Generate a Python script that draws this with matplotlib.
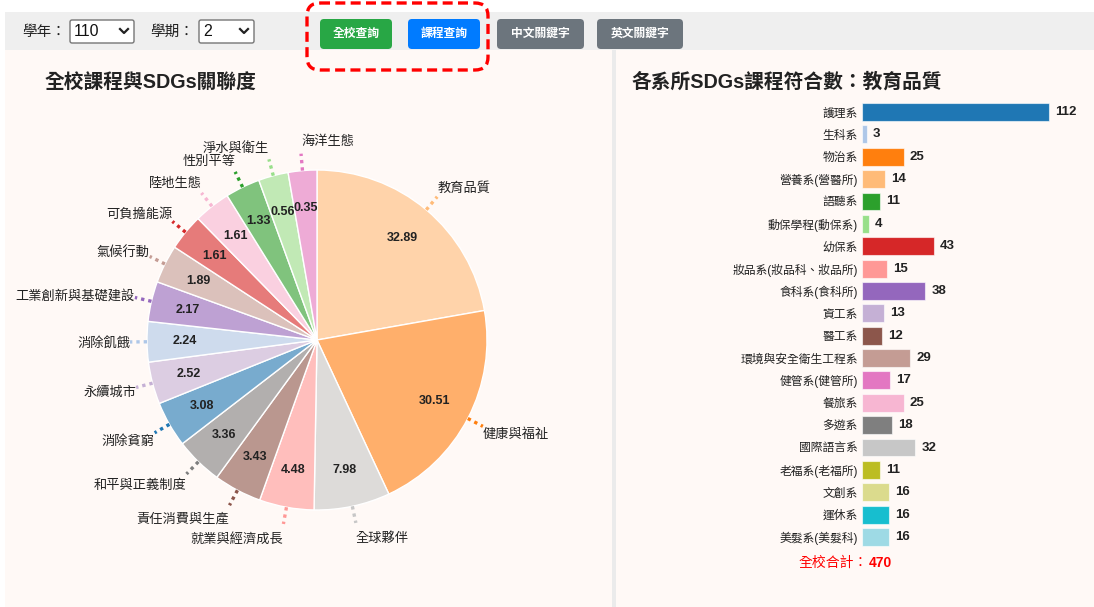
import numpy as np
import matplotlib
matplotlib.use('Agg')
import matplotlib.pyplot as plt
from matplotlib.patches import FancyBboxPatch, Rectangle
from matplotlib.colors import to_rgba

plt.rcParams['font.family'] = ['Liberation Sans', 'Noto Sans CJK TC', 'DejaVu Sans']

# pie: SDG share of all courses (labels), slice sizes as drawn in degrees
sdg_names = ['教育品質', '健康與福祉', '全球夥伴', '就業與經濟成長', '責任消費與生產', '和平與正義制度',
             '消除貧窮', '永續城市', '消除飢餓', '工業創新與基礎建設', '氣候行動', '可負擔能源',
             '陸地生態', '性別平等', '淨水與衛生', '海洋生態']
sdg_pct = [32.89, 30.51, 7.98, 4.48, 3.43, 3.36, 3.08, 2.52, 2.24, 2.17, 1.89, 1.61, 1.61, 1.33, 0.56, 0.35]
sdg_slice_deg = [80, 75, 26, 18.7, 16.4, 16.3, 15.7, 14.4, 13.8, 13.7, 13.1, 12.5, 12.5, 11.9, 10.2, 9.8]
sdg_colors = ['#ffbb78', '#ff7f0e', '#c7c7c7', '#ff9896', '#8c564b', '#7f7f7f', '#1f77b4', '#c5b0d5',
              '#aec7e8', '#9467bd', '#c49c94', '#d62728', '#f7b6d2', '#2ca02c', '#98df8a', '#e377c2']

# bars: courses per department for 教育品質
dept_names = ['護理系', '生科系', '物治系', '營養系(營醫所)', '語聽系', '動保學程(動保系)', '幼保系',
              '妝品系(妝品科、妝品所)', '食科系(食科所)', '資工系', '醫工系', '環境與安全衛生工程系',
              '健管系(健管所)', '餐旅系', '多遊系', '國際語言系', '老福系(老福所)', '文創系', '運休系',
              '美髮系(美髮科)']
dept_counts = [112, 3, 25, 14, 11, 4, 43, 15, 38, 13, 12, 29, 17, 25, 18, 32, 11, 16, 16, 16]
bar_colors = list(plt.get_cmap('tab20').colors)

year_value = '110'
term_value = '2'
buttons = ['全校查詢', '課程查詢', '中文關鍵字', '英文關鍵字']
button_colors = ['#28a745', '#007bff', '#6c757d', '#6c757d']

W, H = 1094, 607
fig = plt.figure(figsize=(W / 100, H / 100), dpi=100)
fig.patch.set_facecolor('white')

# page background in pixel coordinates
bg = fig.add_axes([0, 0, 1, 1])
bg.set_xlim(0, W)
bg.set_ylim(H, 0)
bg.axis('off')
panel = '#fff9f6'
bg.add_patch(Rectangle((5, 12), W - 5, 38, color='#efefef', lw=0))
bg.add_patch(Rectangle((5, 50), 607, H - 50, color=panel, lw=0))
bg.add_patch(Rectangle((612, 50), 4, H - 50, color='#ebebeb', lw=0))
bg.add_patch(Rectangle((616, 50), W - 616, H - 50, color=panel, lw=0))

# select boxes
bg.text(22, 32, '學年：', fontsize=10.5, va='center', color='#222')
bg.text(150, 32, '學期：', fontsize=10.5, va='center', color='#222')
for x0, w, val in [(70, 64, year_value), (199, 55, term_value)]:
    bg.add_patch(FancyBboxPatch((x0, 20), w, 23, boxstyle='round,pad=0,rounding_size=2',
                                fc='white', ec='#767676', lw=1))
    bg.text(x0 + 4, 32, val, fontsize=11.5, va='center', color='#111')
    cx = x0 + w - 10
    bg.plot([cx - 4, cx, cx + 4], [29, 33, 29], color='#222', lw=1.6)

# buttons
bx = [320, 408, 497, 597]
bw = [72, 72, 87, 86]
for x0, w, label, c in zip(bx, bw, buttons, button_colors):
    bg.add_patch(FancyBboxPatch((x0, 19), w, 30, boxstyle='round,pad=0,rounding_size=4',
                                fc=c, ec='none'))
    bg.text(x0 + w / 2, 34, label, fontsize=8.5, ha='center', va='center', color='white',
            fontweight='bold')

# red dashed highlight
bg.add_patch(FancyBboxPatch((307, 3), 181, 67, boxstyle='round,pad=0,rounding_size=13',
                            fc='none', ec='#ff0000', lw=2.4, ls=(0, (3, 1.6))))

# titles
bg.text(45, 82, '全校課程與SDGs關聯度', fontsize=14.2, fontweight='bold', va='center', color='#222')
bg.text(632, 82, '各系所SDGs課程符合數：教育品質', fontsize=14.2, fontweight='bold', va='center',
        color='#222')

# pie
R = 170
cx, cy = 317, 340
half = 240
pax = fig.add_axes([(cx - half) / W, (H - cy - half) / H, 2 * half / W, 2 * half / H])
wedges, _ = pax.pie(sdg_slice_deg, radius=1, startangle=90, counterclock=False,
                    colors=[to_rgba(c, 0.6) for c in sdg_colors],
                    wedgeprops=dict(edgecolor='white', linewidth=1))
pax.set_xlim(-half / R, half / R)
pax.set_ylim(-half / R, half / R)
pax.axis('off')
for w, name, pct, c in zip(wedges, sdg_names, sdg_pct, sdg_colors):
    a = np.deg2rad((w.theta1 + w.theta2) / 2)
    ux, uy = np.cos(a), np.sin(a)
    pax.text(0.78 * ux, 0.78 * uy, f'{pct:.2f}', ha='center', va='center', fontsize=9,
             fontweight='bold', color='#222')
    pax.plot([1.0 * ux, 1.1 * ux], [1.0 * uy, 1.1 * uy], color=c, lw=2.4, ls=(0, (1, 1.2)))
    ha = 'left' if ux > -0.1 else 'right'
    pax.text(1.1 * ux, 1.18 * uy - 0.012, name, ha=ha, va='center', fontsize=9.5, color='#222')

# bars
row = 22.37
px_per_unit = 1.67
top = 112 - row / 2
bw_px = 230
bax = fig.add_axes([862 / W, (H - top - row * len(dept_names)) / H, bw_px / W,
                    row * len(dept_names) / H])
bax.set_facecolor('none')
y = np.arange(len(dept_names))
bax.barh(y, dept_counts, height=0.8, color=bar_colors, edgecolor=(1, 1, 1, 0.6), linewidth=0.8)
bax.set_xlim(0, bw_px / px_per_unit)
bax.set_ylim(len(dept_names) - 0.5, -0.5)
bax.set_yticks(y)
bax.set_yticklabels(dept_names, fontsize=8.5, color='#222')
bax.tick_params(axis='y', length=0, pad=3)
bax.set_xticks([])
for s in bax.spines.values():
    s.set_visible(False)
for yi, v in zip(y, dept_counts):
    bax.text(v + 6 / px_per_unit, yi, str(v), va='center', ha='left', fontsize=9.5,
             fontweight='bold', color='#222')

total = sum(dept_counts)
bg.text(868, 563, '全校合計：', ha='right', va='center', fontsize=10, color='#ff0000')
bg.text(869, 563, str(total), ha='left', va='center', fontsize=10, color='#ff0000',
        fontweight='bold')

fig.savefig('out.png', dpi=100, facecolor=fig.get_facecolor())
